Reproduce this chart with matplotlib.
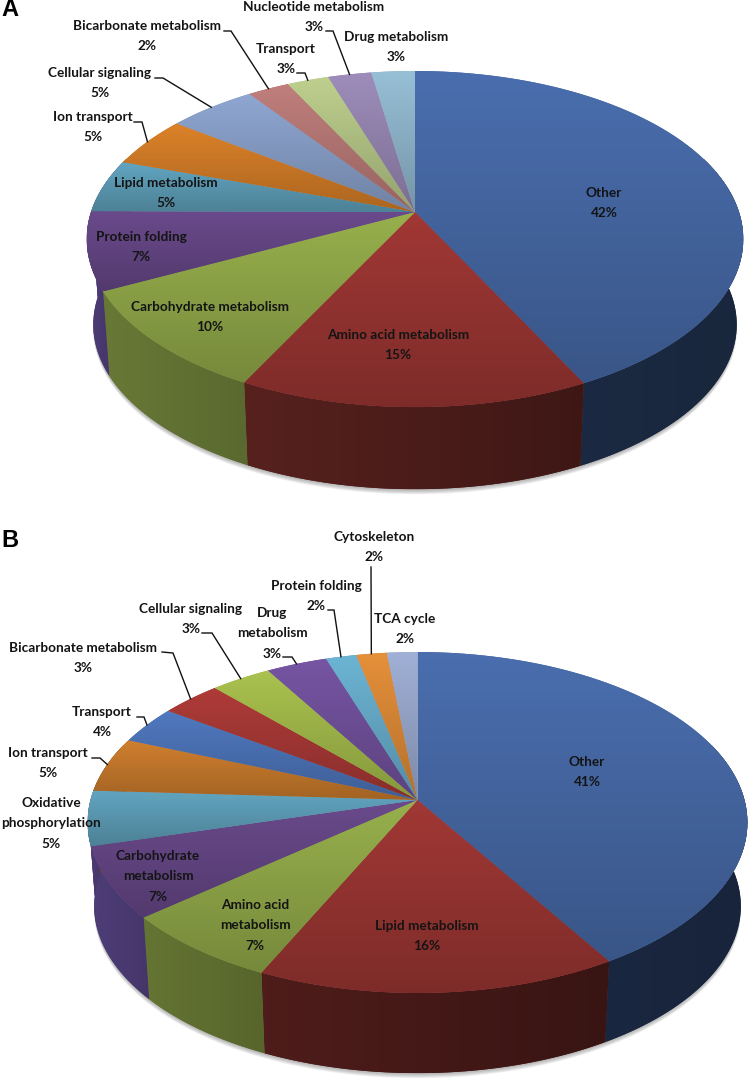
import numpy as np
import matplotlib
matplotlib.use("Agg")
import matplotlib.pyplot as plt
from matplotlib.patches import Polygon
from matplotlib.colors import to_rgb

# ---------- data ----------
a_values = [42.6, 14.8, 10.1, 7.5, 5.1, 4.9, 5.1, 2.4, 2.4, 2.5, 2.5]
a_names = ["Other", "Amino acid metabolism", "Carbohydrate metabolism", "Protein folding",
           "Lipid metabolism", "Ion transport", "Cellular signaling", "Bicarbonate metabolism",
           "Transport", "Nucleotide metabolism", "Drug metabolism"]
a_percent = ["42%", "15%", "10%", "7%", "5%", "5%", "5%", "2%", "3%", "3%", "3%"]

b_values = [41.3, 15.6, 7.0, 6.8, 5.2, 5.2, 3.6, 3.4, 3.4, 3.4, 1.7, 1.7, 1.7]
b_names = ["Other", "Lipid metabolism", "Amino acid\nmetabolism", "Carbohydrate\nmetabolism",
           "Oxidative\nphosphorylation", "Ion transport", "Transport", "Bicarbonate metabolism",
           "Cellular signaling", "Drug\nmetabolism", "Protein folding", "Cytoskeleton", "TCA cycle"]
b_percent = ["41%", "16%", "7%", "7%", "5%", "5%", "4%", "3%", "3%", "3%", "2%", "2%", "2%"]

# ---------- styles ----------
a_tops = ["#4A6EAE", "#A13835", "#97B04C", "#6A4A8C", "#62A5C0", "#DC8229", "#8FA7D2",
          "#C07F7C", "#BED08E", "#9E8DBB", "#97BFD6"]
a_walls = ["#1B2A42", "#521F1C", "#627233", "#4A3A72", "#4A3A72", "#6B3E14", "#44506A",
           "#5A3A3A", "#5A6540", "#4A4260", "#48606A"]
b_tops = ["#4A6EAE", "#A13835", "#97B04C", "#6A4A8C", "#62A5C0", "#D07F2E", "#5079C0",
          "#AE3B38", "#AAC24E", "#7655A3", "#6CB4D4", "#E6903A", "#A0B0D6"]
b_walls = ["#1A2740", "#4A1B19", "#5F6E30", "#4A3A72", "#4A3A72", "#6B3E14", "#26395E",
           "#521C1A", "#55622A", "#3A2A52", "#345A6A", "#704416", "#4E566A"]

# geometry of each pie: centre, radii, perspective, wall depth, lower rim scale
a_geom = dict(cx=415, cy=212, a=324, b=163.7, k=0.161, h=86, s=0.98)
b_geom = dict(cx=417.5, cy=800, a=327, b=167.5, k=0.132, h=84, s=0.98)

a_text = [(604, 193), (398, 335), (210, 307), (141, 237), (166, 183), (93, 117),
          (100, 73), (147, 26), (286, 49), (314, 7), (396, 37)]
b_text = [(587, 762), (427, 926), (255, 905), (158, 856), (51, 803), (48, 753),
          (102, 712), (83, 648), (191, 609), (272, 613), (316, 586), (374, 537), (405, 619)]
# leader lines: slice index -> label-side points; last point lands on the slice's rim
a_leaders = {5: [(134, 122), (142, 122)], 6: [(155, 78), (163, 78)], 7: [(224, 31), (231, 31)],
             8: [(297, 73), (305, 73)], 9: [(326, 31), (333, 31)]}
b_leaders = {5: [(92, 758), (100, 758)], 6: [(137, 717), (144, 717)], 7: [(162, 652), (173, 653)],
             8: [(202, 633), (212, 633)], 9: [(283, 657), (292, 657)], 10: [(328, 610), (334, 610)],
             11: [(371, 567)]}

FONT = "Lato"
plt.rcParams["font.family"] = [FONT, "DejaVu Sans"]

fig = plt.figure(figsize=(7.5, 10.8), dpi=100)
ax = fig.add_axes([0, 0, 1, 1])
ax.set_xlim(0, 750)
ax.set_ylim(1080, 0)
ax.axis("off")


def project(theta, g, lower=False):
    u, v = np.sin(theta), np.cos(theta)
    w = 1 + g["k"] * v
    s = g["s"] if lower else 1.0
    dy = g["h"] if lower else 0.0
    return g["cx"] + s * g["a"] * u / w, g["cy"] + dy - s * g["b"] * v / w


def gradient_patch(verts, c0, c1, horizontal, z):
    patch = Polygon(verts, closed=True, fc=tuple((np.array(c0) + np.array(c1)) / 2),
                    ec="none", zorder=z)
    ax.add_patch(patch)
    t = np.linspace(0, 1, 128)[:, None]
    img = (1 - t) * np.array(c0)[None, :] + t * np.array(c1)[None, :]
    img = img.reshape(1, 128, 3) if horizontal else img.reshape(128, 1, 3)
    x0, y0 = verts.min(axis=0)
    x1, y1 = verts.max(axis=0)
    im = ax.imshow(np.clip(img, 0, 1), extent=(x0, x1, y1, y0), aspect="auto", zorder=z + 0.1,
                   interpolation="bilinear")
    im.set_clip_path(patch)


def draw_pie(values, names, percents, tops, walls, geom, text_pos, leaders):
    vals = np.array(values, dtype=float)
    edges = np.concatenate([[0], np.cumsum(vals)]) / vals.sum() * 2 * np.pi

    # soft shadow under the body
    t = np.linspace(np.radians(70), np.radians(290), 200)
    bx, by = project(t, geom, lower=True)
    for off in [5, 4, 3, 2, 1]:
        ax.add_patch(Polygon(np.column_stack([bx, by + off]), closed=True,
                             fc="#555555", alpha=0.10, ec="none", zorder=1))

    # side wall
    lo, hi = np.radians(70), np.radians(290)
    for i in range(len(vals)):
        t0, t1 = max(edges[i], lo), min(edges[i + 1], hi)
        if t1 <= t0:
            continue
        t = np.linspace(t0, t1, 60)
        xt, yt = project(t, geom)
        xb, yb = project(t[::-1], geom, lower=True)
        verts = np.column_stack([np.r_[xt, xb], np.r_[yt, yb]])
        base = np.array(to_rgb(walls[i]))
        gradient_patch(verts, base * 1.06 if i else base, base * 0.76 if i == 1 else base * 0.92,
                       True, 2 + 0.01 * i)

    # top face
    for i in range(len(vals)):
        t = np.linspace(edges[i], edges[i + 1], 80)
        xt, yt = project(t, geom)
        verts = np.column_stack([np.r_[geom["cx"], xt], np.r_[geom["cy"], yt]])
        base = np.array(to_rgb(tops[i]))
        gradient_patch(verts, base, base * 0.78, False, 3 + 0.01 * i)

    # labels
    for i, (name, pct) in enumerate(zip(names, percents)):
        x, y = text_pos[i]
        lines = name.split("\n") + [pct]
        for j, line in enumerate(lines):
            ax.text(x, y + j * 20.3, line, ha="center", va="center", fontsize=FS,
                    fontweight="bold", color="#141414", zorder=6)

    # leaders
    for i, pts in leaders.items():
        mid = (edges[i] + edges[i + 1]) / 2
        ex, ey = project(mid, geom)
        xs = [p[0] for p in pts] + [ex]
        ys = [p[1] for p in pts] + [ey]
        ax.plot(xs, ys, color="#111111", lw=1.0, zorder=5, solid_joinstyle="miter")


FS = 9.8
draw_pie(a_values, a_names, a_percent, a_tops, a_walls, a_geom, a_text, a_leaders)
draw_pie(b_values, b_names, b_percent, b_tops, b_walls, b_geom, b_text, b_leaders)

ax.text(10, 10, "A", ha="center", va="center", fontsize=17, fontweight="bold",
        family="Liberation Sans", color="black", zorder=7)
ax.text(10, 540.5, "B", ha="center", va="center", fontsize=17, fontweight="bold",
        family="Liberation Sans", color="black", zorder=7)

ax.set_xlim(0, 750)
ax.set_ylim(1080, 0)
fig.savefig("out.png", dpi=100, facecolor="white")
